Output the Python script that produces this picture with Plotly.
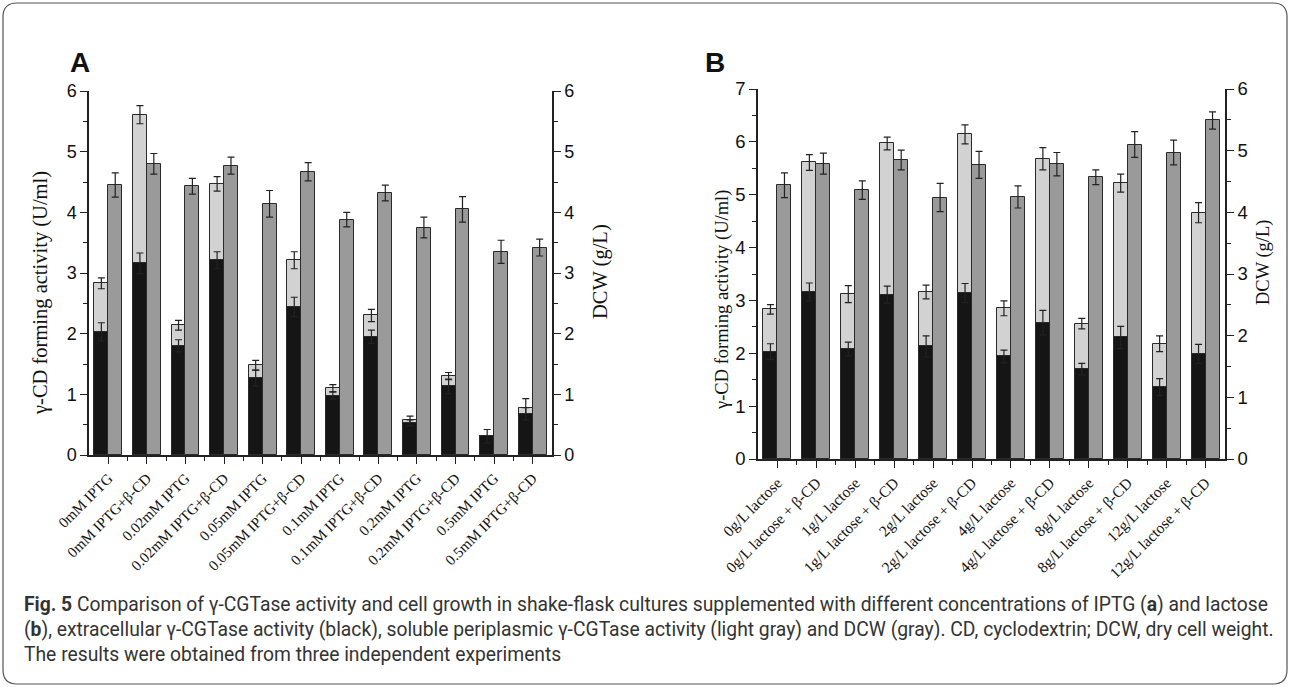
import plotly.graph_objects as go

# ---------------- data ----------------
cats_a = ["0mM IPTG", "0mM IPTG+β-CD", "0.02mM IPTG", "0.02mM IPTG+β-CD",
          "0.05mM IPTG", "0.05mM IPTG+β-CD", "0.1mM IPTG", "0.1mM IPTG+β-CD",
          "0.2mM IPTG", "0.2mM IPTG+β-CD", "0.5mM IPTG", "0.5mM IPTG+β-CD"]
extra_a = [2.03, 3.16, 1.80, 3.21, 1.27, 2.44, 0.98, 1.95, 0.53, 1.13, 0.31, 0.68]
extra_a_err = [0.15, 0.17, 0.10, 0.14, 0.13, 0.16, 0.06, 0.11, 0.05, 0.12, 0.11, 0.10]
total_a = [2.83, 5.61, 2.14, 4.47, 1.48, 3.21, 1.10, 2.30, 0.58, 1.30, 0.31, 0.78]
total_a_err = [0.09, 0.15, 0.08, 0.12, 0.08, 0.14, 0.06, 0.10, 0.06, 0.06, 0.0, 0.15]
dcw_a = [4.45, 4.80, 4.43, 4.77, 4.14, 4.67, 3.88, 4.32, 3.75, 4.05, 3.35, 3.42]
dcw_a_err = [0.20, 0.17, 0.13, 0.14, 0.22, 0.15, 0.12, 0.13, 0.17, 0.21, 0.19, 0.14]

cats_b = ["0g/L lactose", "0g/L lactose + β-CD", "1g/L lactose", "1g/L lactose + β-CD",
          "2g/L lactose", "2g/L lactose + β-CD", "4g/L lactose", "4g/L lactose + β-CD",
          "8g/L lactose", "8g/L lactose + β-CD", "12g/L lactose", "12g/L lactose + β-CD"]
extra_b = [2.03, 3.16, 2.08, 3.11, 2.13, 3.14, 1.94, 2.58, 1.70, 2.30, 1.36, 1.99]
extra_b_err = [0.15, 0.17, 0.13, 0.16, 0.20, 0.18, 0.12, 0.23, 0.11, 0.21, 0.16, 0.18]
total_b = [2.83, 5.61, 3.12, 5.97, 3.16, 6.14, 2.85, 5.68, 2.56, 5.22, 2.18, 4.66]
total_b_err = [0.09, 0.15, 0.16, 0.12, 0.13, 0.18, 0.14, 0.21, 0.10, 0.17, 0.15, 0.19]
dcw_b = [4.44, 4.79, 4.36, 4.85, 4.24, 4.77, 4.25, 4.78, 4.57, 5.10, 4.97, 5.49]
dcw_b_err = [0.20, 0.17, 0.15, 0.16, 0.23, 0.22, 0.18, 0.19, 0.12, 0.21, 0.20, 0.14]

y_left_title = "γ-CD forming activity (U/ml)"
y_right_title = "DCW (g/L)"
caption = [
    "<b>Fig. 5</b> Comparison of γ-CGTase activity and cell growth in shake-flask cultures supplemented with different concentrations of IPTG (<b>a</b>) and lactose",
    "(<b>b</b>), extracellular γ-CGTase activity (black), soluble periplasmic γ-CGTase activity (light gray) and DCW (gray). CD, cyclodextrin; DCW, dry cell weight.",
    "The results were obtained from three independent experiments",
]

# ---------------- style ----------------
W, H = 1290, 687
BLACK = "#151515"
LIGHT = "#d2d2d2"
GRAY = "#9a9a9a"
EDGE = "#2a2a2a"
ERR = "#222222"
BW = 0.36
SERIF = "Liberation Serif, Times New Roman, serif"
SANS = "Liberation Sans, Arial, sans-serif"


def px(x):
    return x / W


def py(y):
    return 1 - y / H


fig = go.Figure()


def add_panel(cats, extra, extra_err, total, total_err, dcw, dcw_err, xa, ya, ya2):
    xs = list(range(len(cats)))
    eb = dict(type="data", visible=True, color=ERR, thickness=1.2, width=3.5)
    fig.add_trace(go.Bar(x=xs, y=total, offset=-BW, width=BW, marker=dict(color=LIGHT, line=dict(color=EDGE, width=1)),
                         error_y=dict(array=total_err, **eb), xaxis=xa, yaxis=ya, showlegend=False))
    fig.add_trace(go.Bar(x=xs, y=extra, offset=-BW, width=BW, marker=dict(color=BLACK, line=dict(color=EDGE, width=1)),
                         error_y=dict(array=extra_err, **eb), xaxis=xa, yaxis=ya, showlegend=False))
    fig.add_trace(go.Bar(x=xs, y=dcw, offset=0, width=BW, marker=dict(color=GRAY, line=dict(color=EDGE, width=1)),
                         error_y=dict(array=dcw_err, **eb), xaxis=xa, yaxis=ya2, showlegend=False))


add_panel(cats_a, extra_a, extra_a_err, total_a, total_a_err, dcw_a, dcw_a_err, "x", "y", "y2")
add_panel(cats_b, extra_b, extra_b_err, total_b, total_b_err, dcw_b, dcw_b_err, "x2", "y3", "y4")

axis_common = dict(showline=True, linecolor="#222", linewidth=1.5, ticks="outside", tickcolor="#222",
                   tickwidth=1.2, showgrid=False, zeroline=False, automargin=False)


def xaxis(dom, anchor, cats, fs):
    return dict(domain=dom, anchor=anchor, range=[-0.5, len(cats) - 0.5], tickvals=list(range(len(cats))),
                ticktext=cats, tickangle=-45, ticklen=7, tickfont=dict(family=SERIF, size=fs, color="#111"),
                minor=dict(tickvals=[i + 0.5 for i in range(len(cats) - 1)], ticks="outside", ticklen=4,
                           tickcolor="#222", tickwidth=1.2),
                **axis_common)


def yaxis(dom, anchor, rng, fs, side="left", overlaying=None, dtick=1):
    d = dict(domain=dom, anchor=anchor, range=rng, dtick=dtick, side=side, ticklen=7,
             tickfont=dict(family=SANS, size=fs, color="#111"),
             minor=dict(dtick=0.5, ticks="outside", ticklen=4, tickcolor="#222", tickwidth=1.2),
             **axis_common)
    if overlaying:
        d["overlaying"] = overlaying
    return d


xa_dom = [px(89), px(552)]
xb_dom = [px(758), px(1225)]
ya_dom = [py(455), py(91)]
yb_dom = [py(459), py(89)]

fig.update_layout(
    width=W, height=H, margin=dict(l=0, r=0, t=0, b=0, autoexpand=False),
    paper_bgcolor="white", plot_bgcolor="rgba(0,0,0,0)",
    barmode="overlay", bargap=0,
    xaxis=xaxis(xa_dom, "y", cats_a, 15),
    xaxis2=xaxis(xb_dom, "y3", cats_b, 15.5),
    yaxis=yaxis(ya_dom, "x", [0, 6], 18),
    yaxis2=yaxis(ya_dom, "x", [0, 6], 18, side="right", overlaying="y"),
    yaxis3=yaxis(yb_dom, "x2", [0, 7], 18.5),
    yaxis4=yaxis(yb_dom, "x2", [0, 6], 18.5, side="right", overlaying="y3"),
)

ann = []
ann.append(dict(text="<b>A</b>", x=px(68), y=py(62), xref="paper", yref="paper", xanchor="left", yanchor="middle",
                showarrow=False, font=dict(family=SANS, size=28, color="#111")))
ann.append(dict(text="<b>B</b>", x=px(703), y=py(62), xref="paper", yref="paper", xanchor="left", yanchor="middle",
                showarrow=False, font=dict(family=SANS, size=28, color="#111")))
for xx, yy, t, fs in [(40, 293, y_left_title, 20.5), (600, 272, y_right_title, 20.5),
                      (722, 300, y_left_title, 18.5), (1263, 263, y_right_title, 18.5)]:
    ann.append(dict(text=t, x=px(xx), y=py(yy), xref="paper", yref="paper", xanchor="center", yanchor="middle",
                    textangle=-90, showarrow=False, font=dict(family=SERIF, size=fs, color="#111")))
for i, line in enumerate(caption):
    ann.append(dict(text=line, x=px(22), y=py(604 + i * 25), xref="paper", yref="paper", xanchor="left",
                    yanchor="middle", showarrow=False,
                    font=dict(family="Roboto, sans-serif", size=19.3, color="#333")))
fig.update_layout(annotations=ann)

# rounded frame
x0, x1, y0, y1, r = 3, 1287, 3, 684, 14
path = (f"M {px(x0 + r)} {py(y0)} L {px(x1 - r)} {py(y0)} Q {px(x1)} {py(y0)} {px(x1)} {py(y0 + r)} "
        f"L {px(x1)} {py(y1 - r)} Q {px(x1)} {py(y1)} {px(x1 - r)} {py(y1)} "
        f"L {px(x0 + r)} {py(y1)} Q {px(x0)} {py(y1)} {px(x0)} {py(y1 - r)} "
        f"L {px(x0)} {py(y0 + r)} Q {px(x0)} {py(y0)} {px(x0 + r)} {py(y0)} Z")
fig.add_shape(type="path", path=path, xref="paper", yref="paper", line=dict(color="#555", width=1.2))

fig.write_html("out.html", config={"displayModeBar": False},
               post_script="document.body.style.margin='0';document.body.style.overflow='hidden';")
